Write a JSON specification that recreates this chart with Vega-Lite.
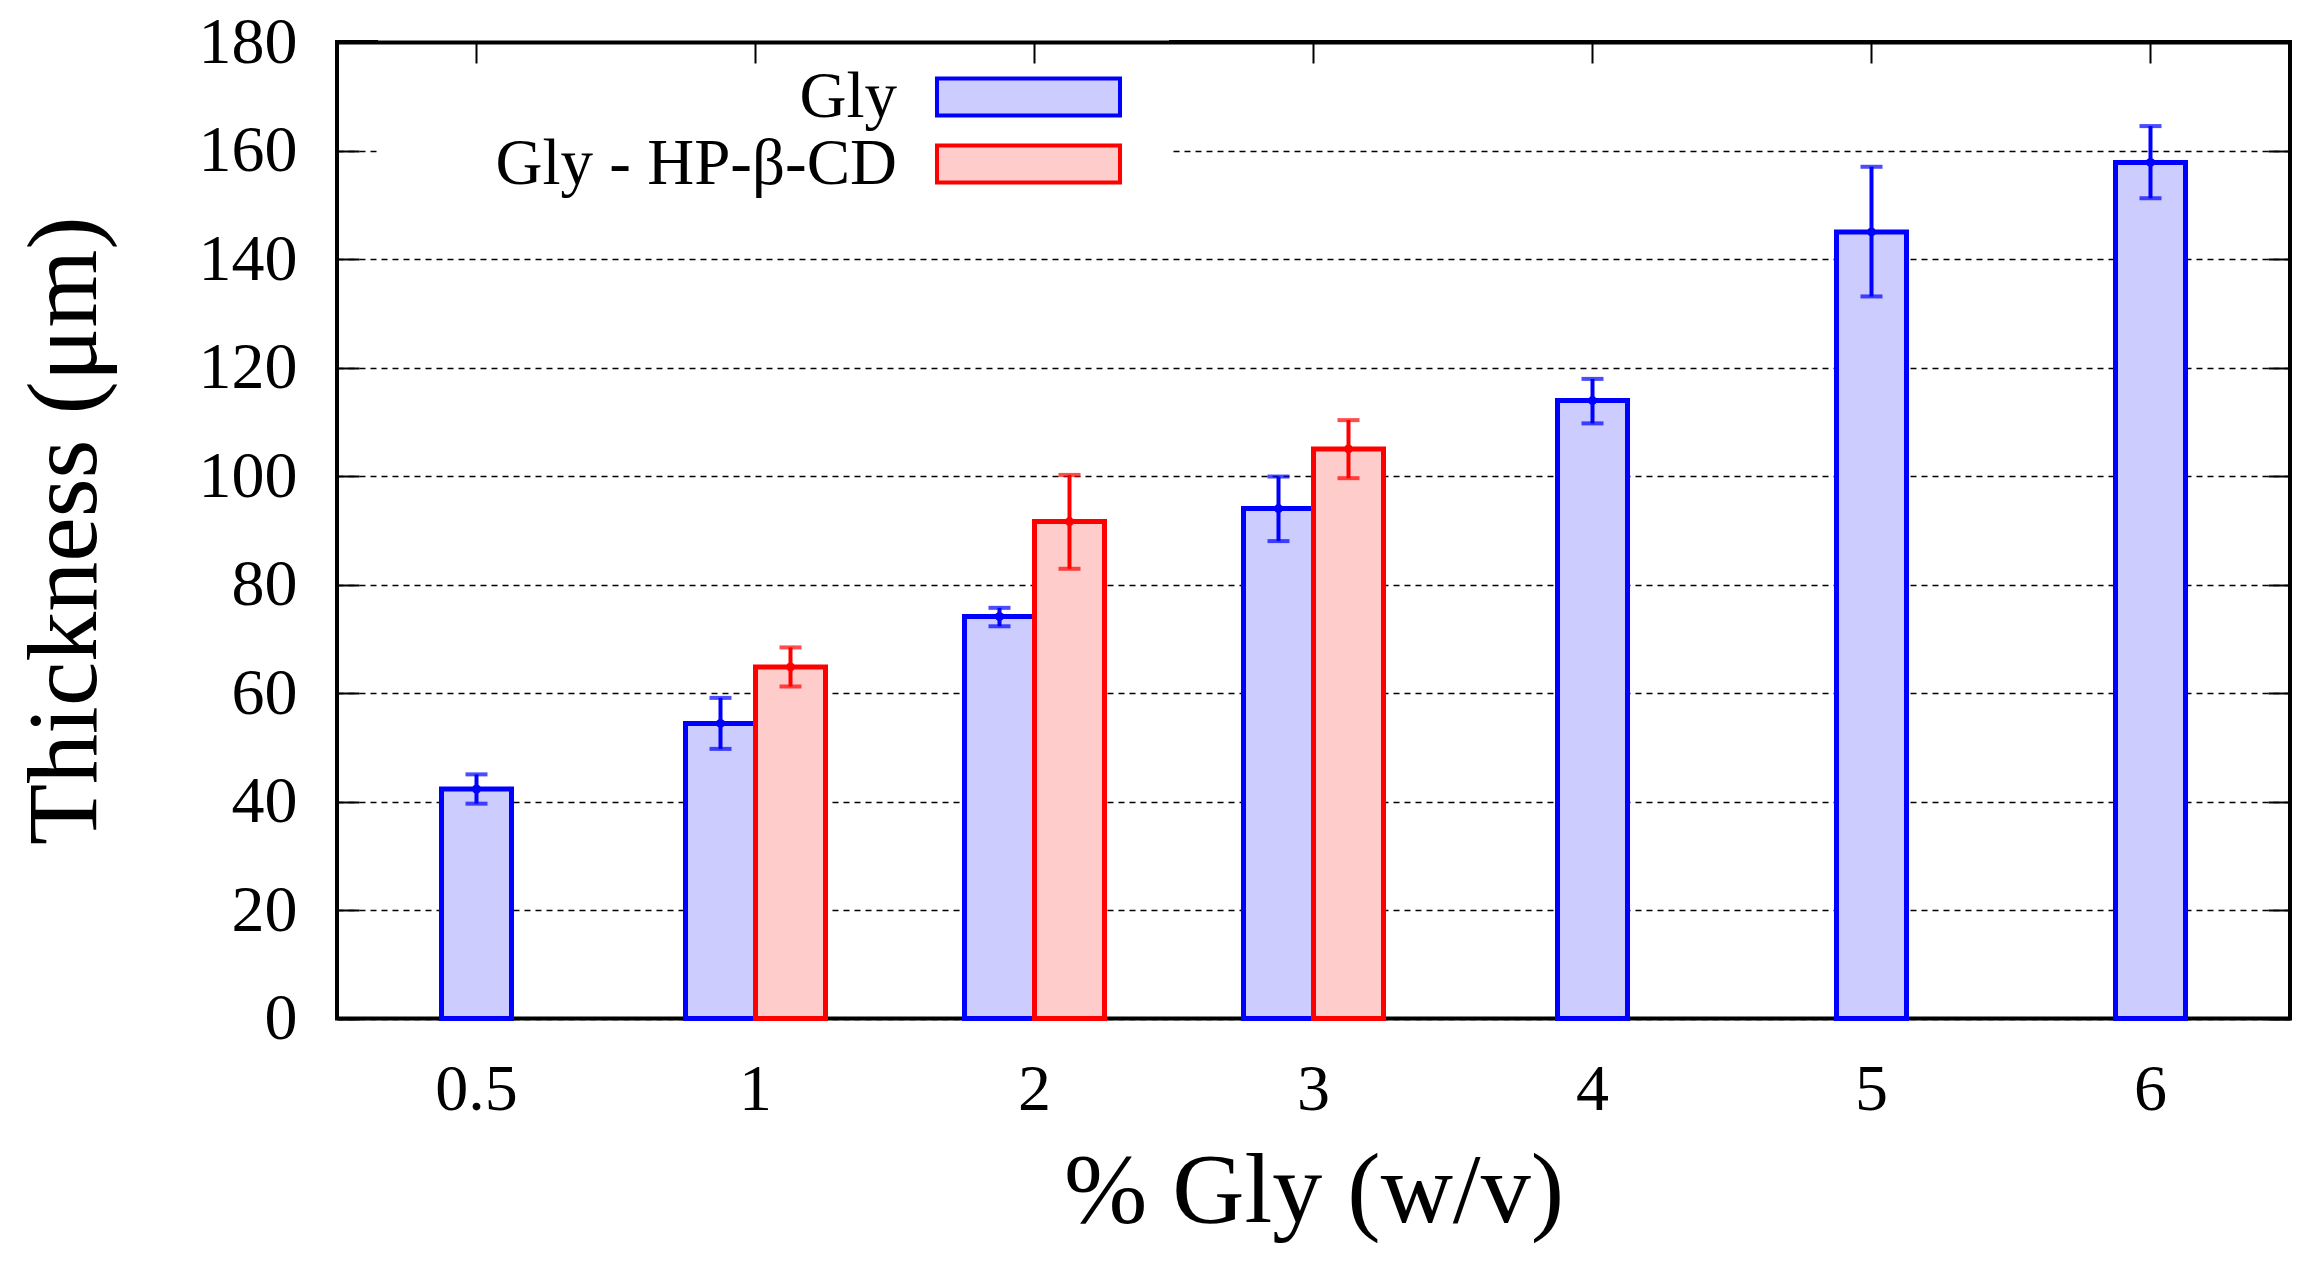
{
  "$schema": "https://vega.github.io/schema/vega-lite/v6.json",
  "width": 1953,
  "height": 976.5,
  "autosize": {"type": "none"},
  "padding": {"left": 337, "top": 42, "right": 20, "bottom": 244.5},
  "background": "white",
  "config": {
    "view": {"stroke": "black", "strokeWidth": 4},
    "font": "Liberation Serif",
    "axis": {
      "labelFont": "Liberation Serif",
      "titleFont": "Liberation Serif",
      "labelColor": "black",
      "titleColor": "black",
      "titleFontWeight": "normal",
      "tickColor": "black",
      "tickWidth": 2
    }
  },
  "data": {
    "values": [
      {"pct": "0.5", "series": "Gly", "value": 42.3, "lo": 39.6, "hi": 45.0},
      {"pct": "1", "series": "Gly", "value": 54.4, "lo": 49.7, "hi": 59.1},
      {"pct": "1", "series": "Gly - HP-β-CD", "value": 64.8, "lo": 61.2, "hi": 68.4},
      {"pct": "2", "series": "Gly", "value": 74.1, "lo": 72.3, "hi": 75.7},
      {"pct": "2", "series": "Gly - HP-β-CD", "value": 91.6, "lo": 82.9, "hi": 100.2},
      {"pct": "3", "series": "Gly", "value": 94.0, "lo": 88.0, "hi": 99.9},
      {"pct": "3", "series": "Gly - HP-β-CD", "value": 105.0, "lo": 99.6, "hi": 110.3},
      {"pct": "4", "series": "Gly", "value": 113.9, "lo": 109.7, "hi": 117.9},
      {"pct": "5", "series": "Gly", "value": 145.0, "lo": 133.1, "hi": 157.0},
      {"pct": "6", "series": "Gly", "value": 157.8, "lo": 151.2, "hi": 164.5}
    ]
  },
  "transform": [{"joinaggregate": [{"op": "count", "as": "n"}], "groupby": ["pct"]}],
  "resolve": {"axis": {"x": "independent", "y": "independent"}},
  "layer": [
    {
      "transform": [{"filter": "datum.n == 1"}],
      "encoding": {
        "x": {
          "field": "pct", "type": "ordinal",
          "scale": {"domain": ["0.5", "1", "2", "3", "4", "5", "6"], "paddingInner": 0.4982, "paddingOuter": 0.2491},
          "axis": {"orient": "bottom", "title": "% Gly (w/v)", "titleFontSize": 100, "titlePadding": 20, "labelFontSize": 66, "labelAngle": 0, "labelPadding": 39, "ticks": false, "tickSize": 0, "domain": false, "grid": false}
        }
      },
      "layer": [
        {
          "mark": {"type": "bar", "width": {"band": 0.5}, "strokeWidth": 5},
          "encoding": {
            "y": {"field": "value", "type": "quantitative", "title": "Thickness (μm)",
              "scale": {"domain": [0, 180], "nice": false, "zero": true},
              "axis": {"orient": "left", "values": [0, 20, 40, 60, 80, 100, 120, 140, 160, 180], "labelFontSize": 66, "labelPadding": 62, "tickSize": -22, "domain": false, "grid": true, "gridColor": "black", "gridDash": [6, 5], "gridWidth": 1.3, "gridOpacity": 1, "titleFontSize": 100, "titlePadding": 82}},
            "fill": {"field": "series", "type": "nominal",
              "scale": {"domain": ["Gly", "Gly - HP-β-CD"], "range": ["#ccccff", "#ffcccc"]},
              "legend": {"orient": "none", "legendX": 41, "legendY": -19, "title": null, "direction": "vertical",
                "symbolType": "M-2.86,-0.578L2.86,-0.578L2.86,0.578L-2.86,0.578Z", "symbolSize": 4096, "symbolStrokeWidth": 4, "symbolOffset": 576.5,
                "labelFont": "Liberation Serif", "labelFontSize": 65, "labelColor": "black", "labelAlign": "right", "labelBaseline": "middle",
                "labelOffset": -165.5, "labelLimit": 800, "rowPadding": 0, "padding": 40, "fillColor": "white"}},
            "stroke": {"field": "series", "type": "nominal",
              "scale": {"domain": ["Gly", "Gly - HP-β-CD"], "range": ["#0000ff", "#ff0000"]},
              "legend": {"orient": "none", "legendX": 41, "legendY": -19, "title": null, "direction": "vertical",
                "symbolType": "M-2.86,-0.578L2.86,-0.578L2.86,0.578L-2.86,0.578Z", "symbolSize": 4096, "symbolStrokeWidth": 4, "symbolOffset": 576.5,
                "labelFont": "Liberation Serif", "labelFontSize": 65, "labelColor": "black", "labelAlign": "right", "labelBaseline": "middle",
                "labelOffset": -165.5, "labelLimit": 800, "rowPadding": 0, "padding": 40, "fillColor": "white"}}
          }
        },
        {
          "mark": {"type": "rule", "strokeWidth": 4},
          "encoding": {
            "y": {"field": "lo", "type": "quantitative", "title": "Thickness (μm)"},
            "y2": {"field": "hi"},
            "color": {"field": "series", "type": "nominal", "scale": {"domain": ["Gly", "Gly - HP-β-CD"], "range": ["#0000ff", "#ff0000"]}, "legend": null}
          }
        },
        {
          "mark": {"type": "tick", "thickness": 4, "size": 22},
          "encoding": {
            "y": {"field": "lo", "type": "quantitative", "title": "Thickness (μm)"},
            "color": {"field": "series", "type": "nominal", "legend": null}
          }
        },
        {
          "mark": {"type": "tick", "thickness": 4, "size": 22},
          "encoding": {
            "y": {"field": "hi", "type": "quantitative", "title": "Thickness (μm)"},
            "color": {"field": "series", "type": "nominal", "legend": null}
          }
        },
        {
          "mark": {"type": "point", "filled": true, "size": 80, "opacity": 1},
          "encoding": {
            "y": {"field": "value", "type": "quantitative", "title": "Thickness (μm)"},
            "color": {"field": "series", "type": "nominal", "legend": null}
          }
        }
      ]
    },
    {
      "transform": [{"filter": "datum.n == 2"}],
      "encoding": {
        "x": {
          "field": "pct", "type": "ordinal",
          "axis": {"orient": "top", "title": null, "labels": false, "ticks": true, "tickSize": -21, "domain": true, "domainColor": "black", "domainWidth": 4, "zindex": 1, "grid": false}
        },
        "xOffset": {"field": "series", "type": "nominal", "scale": {"domain": ["Gly", "Gly - HP-β-CD"], "paddingInner": 0, "paddingOuter": 0}}
      },
      "layer": [
        {
          "mark": {"type": "bar", "strokeWidth": 5},
          "encoding": {
            "y": {"field": "value", "type": "quantitative", "title": null,
              "axis": {"orient": "right", "values": [0, 20, 40, 60, 80, 100, 120, 140, 160, 180], "labels": false, "tickSize": -22, "domain": false, "grid": false}},
            "fill": {"field": "series", "type": "nominal"},
            "stroke": {"field": "series", "type": "nominal"}
          }
        },
        {
          "mark": {"type": "rule", "strokeWidth": 4},
          "encoding": {
            "y": {"field": "lo", "type": "quantitative", "title": null},
            "y2": {"field": "hi"},
            "color": {"field": "series", "type": "nominal", "legend": null}
          }
        },
        {
          "mark": {"type": "tick", "thickness": 4, "size": 22},
          "encoding": {
            "y": {"field": "lo", "type": "quantitative", "title": null},
            "color": {"field": "series", "type": "nominal", "legend": null}
          }
        },
        {
          "mark": {"type": "tick", "thickness": 4, "size": 22},
          "encoding": {
            "y": {"field": "hi", "type": "quantitative", "title": null},
            "color": {"field": "series", "type": "nominal", "legend": null}
          }
        },
        {
          "mark": {"type": "point", "filled": true, "size": 80, "opacity": 1},
          "encoding": {
            "y": {"field": "value", "type": "quantitative", "title": null},
            "color": {"field": "series", "type": "nominal", "legend": null}
          }
        }
      ]
    }
  ]
}
